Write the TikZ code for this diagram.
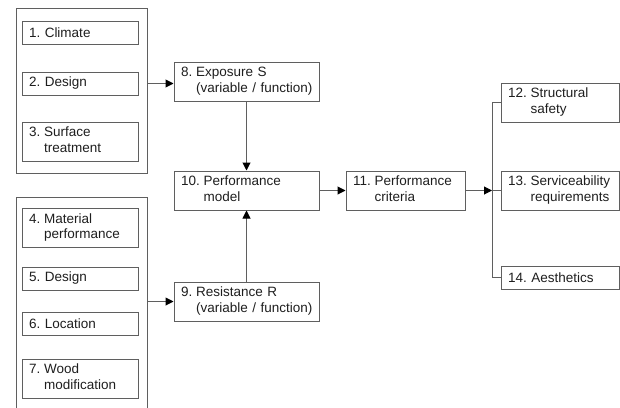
\documentclass[tikz,border=0pt]{standalone}
\usepackage{fontspec}
\setmainfont{Liberation Sans}
\usetikzlibrary{arrows.meta}
\definecolor{lc}{RGB}{95,95,95}
\definecolor{tc}{RGB}{30,30,30}
\newcommand{\itm}[3]{\begin{tabular}{@{}l@{\hspace{0.28em}}l@{}}#1&#2\\&#3\end{tabular}}
\tikzset{
  grp/.style={draw=lc, line width=1pt, inner sep=0pt},
  box/.style={draw=lc, line width=1pt, inner xsep=7pt, inner ysep=0pt, align=left,
    text=tc, font=\fontsize{13.5}{15.5}\selectfont\frenchspacing},
  bleft/.style={box, text width=102pt, minimum width=116pt},
  bmid/.style={box, text width=131pt, minimum width=145pt},
  bcrit/.style={box, text width=105pt, minimum width=119pt},
  bright/.style={box, text width=104pt, minimum width=118pt},
  one/.style={minimum height=23pt},
  two/.style={minimum height=39pt},
  conn/.style={draw=lc, line width=1pt},
  arr/.style={conn, -{Triangle[length=8pt,width=8pt,fill=black,color=black]}}
}
\begin{document}
\begin{tikzpicture}[x=1pt,y=-1pt]
\useasboundingbox (0,0) rectangle (620,407);
% groups
\node[grp, minimum width=131pt, minimum height=165pt] (g1) at (81.5,90.5) {};
\node[grp, minimum width=131pt, minimum height=230pt] (g2) at (81.5,312) {};
% left boxes
\node[bleft, one] (b1) at (80,32.5) {1. Climate};
\node[bleft, one] (b2) at (80,83.5) {2. Design};
\node[bleft, two] (b3) at (80,141.5) {\itm{3.}{Surface}{treatment}};
\node[bleft, two] (b4) at (80,228) {\itm{4.}{Material}{performance}};
\node[bleft, one] (b5) at (80,278.5) {5. Design};
\node[bleft, one] (b6) at (80,323.5) {6. Location};
\node[bleft, two] (b7) at (80,378.5) {\itm{7.}{Wood}{modification}};
% middle
\node[bmid, two] (b8) at (246.5,81.5) {\itm{8.}{Exposure S}{(variable / function)}};
\node[bmid, two] (b10) at (246.5,190.5) {\itm{10.}{Performance}{model}};
\node[bmid, two] (b9) at (246.5,301.5) {\itm{9.}{Resistance R}{(variable / function)}};
\node[bcrit, two] (b11) at (405.5,190.5) {\itm{11.}{Performance}{criteria}};
% right
\node[bright, two] (b12) at (560,102.5) {\itm{12.}{Structural}{safety}};
\node[bright, two] (b13) at (560,190.5) {\itm{13.}{Serviceability}{requirements}};
\node[bright, one] (b14) at (560,277.5) {14. Aesthetics};
\coordinate (j) at (492,190.5);
% connectors
\draw[arr] (g1.east |- b2) -- (b8.west |- b2);
\draw[arr] (g2.east |- b9) -- (b9.west);
\draw[arr] (b8.south) -- (b10.north);
\draw[arr] (b9.north) -- (b10.south);
\draw[arr] (b10.east) -- (b11.west);
\draw[arr] (b11.east) -- (j);
\draw[conn] (b12.west) -| (j);
\draw[conn] (b14.west) -| (j);
\draw[conn] (j) -- (b13.west);
\end{tikzpicture}
\end{document}
